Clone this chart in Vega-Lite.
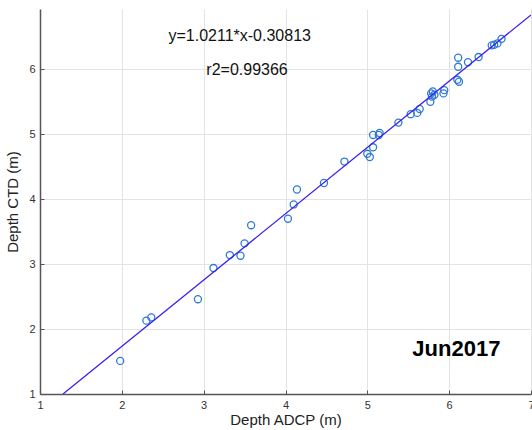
{
  "$schema": "https://vega.github.io/schema/vega-lite/v6.json",
  "width": 491,
  "height": 385,
  "autosize": {"type": "none"},
  "padding": {"left": 40, "top": 9, "right": 1, "bottom": 36},
  "background": "white",
  "config": {
    "view": {"stroke": null},
    "axis": {
      "domainColor": "#555555",
      "domainWidth": 1.5,
      "gridColor": "#e3e3e3",
      "gridWidth": 1,
      "tickColor": "#555555",
      "tickSize": -4,
      "labelFont": "Liberation Sans",
      "labelFontSize": 11,
      "labelColor": "#333333",
      "titleFont": "Liberation Sans",
      "titleFontSize": 15,
      "titleFontWeight": "normal",
      "titleColor": "#222222"
    }
  },
  "layer": [
    {
      "data": {"values": [
        {"adcp": 1.98, "ctd": 1.51},
        {"adcp": 2.30, "ctd": 2.13},
        {"adcp": 2.36, "ctd": 2.18},
        {"adcp": 2.93, "ctd": 2.46},
        {"adcp": 3.12, "ctd": 2.94},
        {"adcp": 3.32, "ctd": 3.14},
        {"adcp": 3.45, "ctd": 3.13},
        {"adcp": 3.50, "ctd": 3.32},
        {"adcp": 3.58, "ctd": 3.60},
        {"adcp": 4.03, "ctd": 3.70},
        {"adcp": 4.10, "ctd": 3.92},
        {"adcp": 4.14, "ctd": 4.15},
        {"adcp": 4.47, "ctd": 4.25},
        {"adcp": 4.72, "ctd": 4.58},
        {"adcp": 5.00, "ctd": 4.70},
        {"adcp": 5.03, "ctd": 4.65},
        {"adcp": 5.07, "ctd": 4.80},
        {"adcp": 5.07, "ctd": 4.99},
        {"adcp": 5.14, "ctd": 4.99},
        {"adcp": 5.15, "ctd": 5.02},
        {"adcp": 5.38, "ctd": 5.18},
        {"adcp": 5.53, "ctd": 5.31},
        {"adcp": 5.61, "ctd": 5.33},
        {"adcp": 5.64, "ctd": 5.39},
        {"adcp": 5.77, "ctd": 5.50},
        {"adcp": 5.78, "ctd": 5.63},
        {"adcp": 5.80, "ctd": 5.66},
        {"adcp": 5.82, "ctd": 5.61},
        {"adcp": 5.79, "ctd": 5.58},
        {"adcp": 5.93, "ctd": 5.63},
        {"adcp": 5.94, "ctd": 5.68},
        {"adcp": 6.10, "ctd": 5.84},
        {"adcp": 6.12, "ctd": 5.81},
        {"adcp": 6.11, "ctd": 6.04},
        {"adcp": 6.11, "ctd": 6.18},
        {"adcp": 6.23, "ctd": 6.11},
        {"adcp": 6.36, "ctd": 6.19},
        {"adcp": 6.52, "ctd": 6.37},
        {"adcp": 6.55, "ctd": 6.38},
        {"adcp": 6.59, "ctd": 6.40},
        {"adcp": 6.64, "ctd": 6.47}
      ]},
      "mark": {"type": "point", "shape": "circle", "filled": false, "size": 50, "strokeWidth": 1.3, "color": "#2e7bd3", "opacity": 1},
      "encoding": {
        "x": {"field": "adcp", "type": "quantitative", "title": "Depth ADCP (m)",
              "scale": {"domain": [1, 7], "nice": false, "zero": false},
              "axis": {"values": [1, 2, 3, 4, 5, 6, 7], "format": "d", "labelPadding": 9, "titlePadding": 2, "labelFlush": false}},
        "y": {"field": "ctd", "type": "quantitative", "title": "Depth CTD (m)",
              "scale": {"domain": [1, 6.93], "nice": false, "zero": false},
              "axis": {"values": [1, 2, 3, 4, 5, 6], "format": "d", "labelPadding": 9, "titlePadding": 8, "labelFlush": false}}
      }
    },
    {
      "data": {"values": [
        {"adcp": 1.281, "ctd": 1.0},
        {"adcp": 7.0, "ctd": 6.839}
      ]},
      "mark": {"type": "line", "color": "#3a20f0", "strokeWidth": 1.3, "clip": true},
      "encoding": {
        "x": {"field": "adcp", "type": "quantitative"},
        "y": {"field": "ctd", "type": "quantitative"}
      }
    },
    {
      "data": {"values": [
        {"label": "y=1.0211*x-0.30813", "adcp": 3.44, "ctd": 6.44},
        {"label": "r2=0.99366", "adcp": 3.53, "ctd": 5.915}
      ]},
      "mark": {"type": "text", "font": "Liberation Sans", "fontSize": 16, "align": "center", "baseline": "alphabetic", "color": "#111111"},
      "encoding": {
        "x": {"field": "adcp", "type": "quantitative"},
        "y": {"field": "ctd", "type": "quantitative"},
        "text": {"field": "label"}
      }
    },
    {
      "data": {"values": [
        {"label": "Jun2017", "adcp": 5.55, "ctd": 1.58}
      ]},
      "mark": {"type": "text", "font": "Liberation Sans", "fontSize": 22, "fontWeight": "bold", "align": "left", "baseline": "alphabetic", "color": "#000000"},
      "encoding": {
        "x": {"field": "adcp", "type": "quantitative"},
        "y": {"field": "ctd", "type": "quantitative"},
        "text": {"field": "label"}
      }
    }
  ]
}
